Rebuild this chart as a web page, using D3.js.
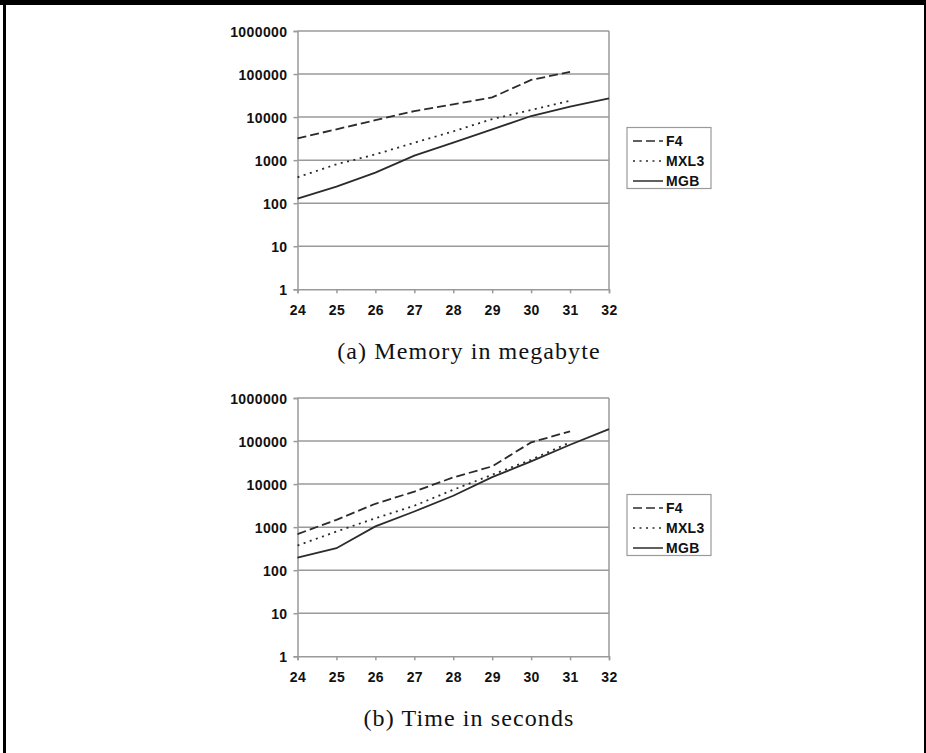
<!DOCTYPE html>
<html>
<head>
<meta charset="utf-8">
<script src="https://cdn.jsdelivr.net/npm/d3@7"></script>
<style>
  html, body { margin: 0; padding: 0; background: #fff; }
  svg { display: block; }
  .tick text { font-family: "Liberation Sans", Arial, sans-serif; font-weight: bold; font-size: 14px; letter-spacing: 0.4px; fill: #111; }
  .legend text { font-family: "Liberation Sans", Arial, sans-serif; font-weight: bold; font-size: 14px; letter-spacing: 0.3px; fill: #111; }
  .caption { font-family: "Liberation Serif", "Times New Roman", serif; font-size: 24px; letter-spacing: 1.1px; fill: #111; }
</style>
</head>
<body>
<svg id="fig" width="926" height="753"></svg>
<script>
// Problem sizes on the x axis (log2 of state count)
const sizes = [24, 25, 26, 27, 28, 29, 30, 31, 32];
const yTicks = [1, 10, 100, 1000, 10000, 100000, 1000000];
const seriesNames = ["F4", "MXL3", "MGB"];

// (a) memory in megabyte
const memF4   = [3200, 5200, 8500, 13800, 19800, 28700, 72900, 113000];
const memMXL3 = [400, 800, 1360, 2540, 4660, 9000, 14600, 24000];
const memMGB  = [127, 242, 512, 1270, 2540, 5190, 10600, 17400, 27200];

// (b) time in seconds
const timeF4   = [690, 1480, 3490, 6700, 14300, 25800, 93000, 168000];
const timeMXL3 = [375, 790, 1610, 3140, 7400, 16500, 36800, 93000];
const timeMGB  = [197, 325, 1040, 2310, 5360, 14500, 33700, 82200, 190000];

const captions = ["(a) Memory in megabyte", "(b) Time in seconds"];

const svg = d3.select("#fig");
const lineColor = "#2b2b2b";
const gridColor = "#9a9a9a";
const dashes = { F4: "9,4", MXL3: "2,4.5", MGB: null };

// page frame
svg.append("rect").attr("x", 0).attr("y", 0).attr("width", 926).attr("height", 5).attr("fill", "#000");
svg.append("rect").attr("x", 3).attr("y", 0).attr("width", 3).attr("height", 753).attr("fill", "#000");
svg.append("rect").attr("x", 924).attr("y", 0).attr("width", 2).attr("height", 753).attr("fill", "#000");

function panel(top, data, caption) {
  const left = 297.5, right = 609, bottom = top + 258.3;
  const x = d3.scaleLinear().domain([24, 32]).range([left, right]);
  const y = d3.scaleLog().domain([1, 1000000]).range([bottom, top]);
  const g = svg.append("g");

  // horizontal grid
  g.append("g").selectAll("line").data(yTicks.slice(1)).join("line")
    .attr("x1", left).attr("x2", right)
    .attr("y1", d => y(d)).attr("y2", d => y(d))
    .attr("stroke", gridColor).attr("stroke-width", 1.5);
  // right border
  g.append("line").attr("x1", right).attr("x2", right).attr("y1", top).attr("y2", bottom)
    .attr("stroke", gridColor).attr("stroke-width", 1.5);

  const yAxis = d3.axisLeft(y).tickValues(yTicks).tickFormat(d3.format("d")).tickSize(4).tickPadding(6);
  const ya = g.append("g").attr("transform", `translate(${left},0)`).call(yAxis);
  const xAxis = d3.axisBottom(x).tickValues(sizes).tickFormat(d3.format("d")).tickSize(4).tickPadding(12);
  const xa = g.append("g").attr("transform", `translate(0,${bottom})`).call(xAxis);
  [ya, xa].forEach(a => {
    a.select(".domain").attr("stroke", gridColor).attr("stroke-width", 1.5);
    a.selectAll(".tick line").attr("stroke", gridColor).attr("stroke-width", 1.5);
  });
  ya.selectAll(".tick text").attr("dy", "0.36em");

  const line = d3.line().x((d, i) => x(sizes[i])).y(d => y(d));
  seriesNames.forEach((name, k) => {
    g.append("path").datum(data[k]).attr("d", line)
      .attr("fill", "none").attr("stroke", lineColor).attr("stroke-width", 1.8)
      .attr("stroke-dasharray", dashes[name]);
  });

  // legend
  const lg = g.append("g").attr("class", "legend");
  const ly = top + 96.5;
  lg.append("rect").attr("x", 627).attr("y", ly).attr("width", 84).attr("height", 61)
    .attr("fill", "#fff").attr("stroke", gridColor).attr("stroke-width", 1.2);
  seriesNames.forEach((name, k) => {
    const yy = ly + 13.5 + k * 20;
    lg.append("line").attr("x1", 633).attr("x2", 663).attr("y1", yy).attr("y2", yy)
      .attr("stroke", lineColor).attr("stroke-width", 1.5).attr("stroke-dasharray", dashes[name]);
    lg.append("text").attr("x", 666).attr("y", yy).attr("dy", "0.36em").text(name);
  });

  svg.append("text").attr("class", "caption").attr("x", 469).attr("y", top + 328.3)
    .attr("text-anchor", "middle").text(caption);
}

panel(31, [memF4, memMXL3, memMGB], captions[0]);
panel(398, [timeF4, timeMXL3, timeMGB], captions[1]);
</script>
</body>
</html>
